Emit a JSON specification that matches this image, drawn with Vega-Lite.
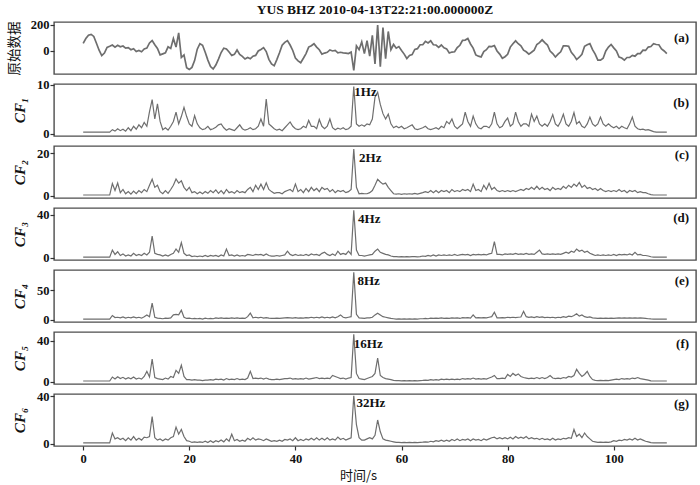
{
  "$schema": "https://vega.github.io/schema/vega-lite/v6.json",
  "padding": {"left": 6, "top": 2, "right": 5, "bottom": 2},
  "title": {"text": "YUS BHZ 2010-04-13T22:21:00.000000Z", "font": "Liberation Serif", "fontSize": 13.5, "fontWeight": "bold", "color": "#111", "offset": 2, "anchor": "middle", "frame": "group"},
  "spacing": 10,
  "bounds": "flush",
  "datasets": {
    "wave": [
      {"t":0,"a":58,"b":0.3,"c":0.4,"d":0.5,"e":1,"f":0.6,"g":0.6},
      {"t":0.5,"a":96,"b":0.3,"c":0.4,"d":0.5,"e":1,"f":0.6,"g":0.6},
      {"t":1,"a":122,"b":0.3,"c":0.4,"d":0.5,"e":1,"f":0.6,"g":0.6},
      {"t":1.5,"a":128,"b":0.3,"c":0.4,"d":0.5,"e":1,"f":0.6,"g":0.6},
      {"t":2,"a":112,"b":0.3,"c":0.4,"d":0.5,"e":1,"f":0.6,"g":0.6},
      {"t":2.5,"a":60,"b":0.3,"c":0.4,"d":0.5,"e":1,"f":0.6,"g":0.6},
      {"t":3,"a":6,"b":0.3,"c":0.4,"d":0.5,"e":1,"f":0.6,"g":0.6},
      {"t":3.5,"a":-36,"b":0.3,"c":0.4,"d":0.5,"e":1,"f":0.6,"g":0.6},
      {"t":4,"a":-16,"b":0.3,"c":0.4,"d":0.5,"e":1,"f":0.6,"g":0.6},
      {"t":4.5,"a":28,"b":0.3,"c":0.4,"d":0.5,"e":1,"f":0.6,"g":0.6},
      {"t":5,"a":36,"b":0.3,"c":0.4,"d":0.5,"e":1,"f":0.6,"g":0.6},
      {"t":5.5,"a":46,"b":0.8,"c":5.8,"d":7,"e":7,"f":4.5,"g":9},
      {"t":6,"a":30,"b":0.5,"c":2.5,"d":3,"e":3.5,"f":2.5,"g":4},
      {"t":6.5,"a":44,"b":1,"c":6,"d":5.5,"e":4,"f":4.8,"g":5},
      {"t":7,"a":32,"b":0.6,"c":1.5,"d":2,"e":3,"f":3,"g":3.5},
      {"t":7.5,"a":38,"b":0.9,"c":3,"d":3.5,"e":4.5,"f":4.2,"g":4.5},
      {"t":8,"a":22,"b":0.5,"c":1,"d":1.5,"e":2.5,"f":2.5,"g":2.5},
      {"t":8.5,"a":26,"b":1.2,"c":2,"d":2.5,"e":4,"f":3.8,"g":5},
      {"t":9,"a":10,"b":0.6,"c":0.8,"d":1.5,"e":3,"f":2.8,"g":3},
      {"t":9.5,"a":18,"b":1.5,"c":2.2,"d":4,"e":4.5,"f":4.5,"g":6},
      {"t":10,"a":-4,"b":0.9,"c":1,"d":2,"e":3,"f":2.5,"g":3},
      {"t":10.5,"a":4,"b":1.8,"c":2.5,"d":3,"e":4,"f":3.5,"g":4.5},
      {"t":11,"a":-6,"b":1.2,"c":1.5,"d":2,"e":2.5,"f":2.5,"g":3},
      {"t":11.5,"a":16,"b":2.3,"c":3,"d":4,"e":5,"f":5,"g":5.5},
      {"t":12,"a":22,"b":1.5,"c":2,"d":2.5,"e":8,"f":10,"g":5},
      {"t":12.5,"a":62,"b":4.5,"c":5,"d":5,"e":5,"f":4.5,"g":6},
      {"t":13,"a":80,"b":7,"c":7.8,"d":20,"e":28,"f":22,"g":23},
      {"t":13.5,"a":48,"b":3,"c":4,"d":4,"e":4,"f":4,"g":5},
      {"t":14,"a":20,"b":6.1,"c":5,"d":3,"e":2.5,"f":3,"g":3},
      {"t":14.5,"a":-30,"b":2.5,"c":2,"d":2.5,"e":2,"f":2.5,"g":4},
      {"t":15,"a":-22,"b":0.8,"c":1,"d":1.5,"e":1.5,"f":2,"g":2.5},
      {"t":15.5,"a":-14,"b":1.2,"c":2.5,"d":2.5,"e":2.5,"f":3.5,"g":4},
      {"t":16,"a":32,"b":0.7,"c":1.2,"d":1.5,"e":2,"f":2.5,"g":3},
      {"t":16.5,"a":20,"b":1.5,"c":3,"d":3,"e":3,"f":5,"g":5},
      {"t":17,"a":95,"b":2.5,"c":5,"d":4,"e":8,"f":4,"g":6},
      {"t":17.5,"a":30,"b":4.4,"c":7.9,"d":8,"e":9,"f":11,"g":14},
      {"t":18,"a":140,"b":2,"c":6,"d":5,"e":8,"f":8,"g":8},
      {"t":18.5,"a":-50,"b":3.5,"c":7.1,"d":14,"e":16,"f":16,"g":12},
      {"t":19,"a":-30,"b":5.4,"c":4,"d":4,"e":4,"f":5,"g":6},
      {"t":19.5,"a":-128,"b":3.5,"c":2.5,"d":2,"e":2,"f":2,"g":2.5},
      {"t":20,"a":-142,"b":2,"c":4,"d":2.5,"e":2.5,"f":2,"g":2},
      {"t":20.5,"a":-126,"b":1.5,"c":1.5,"d":1,"e":1.5,"f":1.5,"g":1},
      {"t":21,"a":-74,"b":3.7,"c":2,"d":1.5,"e":2,"f":2,"g":1.5},
      {"t":21.5,"a":14,"b":2,"c":1,"d":1,"e":1.5,"f":1.5,"g":1},
      {"t":22,"a":56,"b":1.2,"c":1.8,"d":1.5,"e":2,"f":1.5,"g":1.5},
      {"t":22.5,"a":44,"b":0.8,"c":1,"d":1,"e":1,"f":1,"g":1},
      {"t":23,"a":-10,"b":1,"c":2,"d":2,"e":2.5,"f":1.5,"g":2},
      {"t":23.5,"a":-70,"b":1.5,"c":1.2,"d":1,"e":1.5,"f":1.5,"g":1},
      {"t":24,"a":-120,"b":0.8,"c":2.5,"d":2,"e":2,"f":2,"g":2.5},
      {"t":24.5,"a":-138,"b":1,"c":1.5,"d":1.5,"e":1.5,"f":1.5,"g":1},
      {"t":25,"a":-108,"b":1.3,"c":2.8,"d":2,"e":3,"f":2.5,"g":2.5},
      {"t":25.5,"a":-62,"b":1.8,"c":1.2,"d":1,"e":2,"f":2,"g":1.5},
      {"t":26,"a":-12,"b":2,"c":2.5,"d":2.5,"e":3,"f":2.5,"g":3},
      {"t":26.5,"a":22,"b":1.2,"c":1,"d":1.5,"e":2,"f":1.5,"g":1.5},
      {"t":27,"a":16,"b":0.7,"c":3,"d":8,"e":2.5,"f":3,"g":4},
      {"t":27.5,"a":-8,"b":1,"c":1.5,"d":2,"e":2,"f":2,"g":2},
      {"t":28,"a":-34,"b":0.8,"c":2,"d":2.5,"e":3,"f":2.5,"g":8},
      {"t":28.5,"a":-26,"b":0.6,"c":1.2,"d":1.5,"e":2,"f":2,"g":2.5},
      {"t":29,"a":8,"b":1.2,"c":2.5,"d":2.5,"e":3,"f":3,"g":3.5},
      {"t":29.5,"a":-26,"b":1.8,"c":1.5,"d":1.5,"e":2,"f":2,"g":2},
      {"t":30,"a":-42,"b":1,"c":2,"d":2,"e":2.5,"f":2.5,"g":3},
      {"t":30.5,"a":-62,"b":0.7,"c":1.5,"d":1.5,"e":2,"f":2,"g":2},
      {"t":31,"a":-50,"b":0.9,"c":3,"d":3,"e":5,"f":3.5,"g":4.5},
      {"t":31.5,"a":-60,"b":1.2,"c":4,"d":2.5,"e":11,"f":10,"g":3},
      {"t":32,"a":-40,"b":0.8,"c":2,"d":2,"e":3,"f":3,"g":5},
      {"t":32.5,"a":-34,"b":1,"c":5,"d":3,"e":4,"f":3.5,"g":3},
      {"t":33,"a":0,"b":1.5,"c":3,"d":2.5,"e":3,"f":3,"g":4},
      {"t":33.5,"a":12,"b":3,"c":5.5,"d":3,"e":4,"f":3.5,"g":3.5},
      {"t":34,"a":26,"b":1.5,"c":3,"d":2,"e":2.5,"f":2.5,"g":2.5},
      {"t":34.5,"a":-4,"b":7.1,"c":6.1,"d":3.5,"e":3.5,"f":3.5,"g":4},
      {"t":35,"a":-64,"b":2,"c":3,"d":2,"e":2.5,"f":2.5,"g":3},
      {"t":35.5,"a":-100,"b":1.5,"c":2,"d":1.5,"e":2,"f":2,"g":2},
      {"t":36,"a":-114,"b":1,"c":1.2,"d":1.5,"e":2,"f":2,"g":2.5},
      {"t":36.5,"a":-66,"b":0.7,"c":1.5,"d":2,"e":2.5,"f":2.5,"g":2},
      {"t":37,"a":-14,"b":0.9,"c":1.5,"d":1.5,"e":2,"f":2,"g":3},
      {"t":37.5,"a":44,"b":0.6,"c":1,"d":2,"e":2.5,"f":2.5,"g":2},
      {"t":38,"a":66,"b":1.2,"c":2,"d":2.5,"e":3,"f":3,"g":3.5},
      {"t":38.5,"a":80,"b":1.8,"c":2.5,"d":6,"e":3.5,"f":3,"g":3},
      {"t":39,"a":46,"b":2.4,"c":3,"d":3,"e":3,"f":3.5,"g":4},
      {"t":39.5,"a":4,"b":1.5,"c":2,"d":2,"e":2.5,"f":2.5,"g":2.5},
      {"t":40,"a":-54,"b":1,"c":5.5,"d":3,"e":3.5,"f":3,"g":5},
      {"t":40.5,"a":-76,"b":0.8,"c":2,"d":2,"e":2.5,"f":2.5,"g":2.5},
      {"t":41,"a":-90,"b":1,"c":3,"d":2.5,"e":3,"f":3,"g":3.5},
      {"t":41.5,"a":-56,"b":1.5,"c":1.5,"d":2,"e":2.5,"f":2.5,"g":2.5},
      {"t":42,"a":-20,"b":1.2,"c":3.5,"d":3,"e":3.5,"f":3.5,"g":4},
      {"t":42.5,"a":30,"b":2.7,"c":2,"d":2,"e":3,"f":2.5,"g":3},
      {"t":43,"a":40,"b":1.5,"c":4,"d":3.5,"e":4,"f":3,"g":4.5},
      {"t":43.5,"a":56,"b":1.5,"c":2.5,"d":2.5,"e":3,"f":3.5,"g":3},
      {"t":44,"a":30,"b":1,"c":3.5,"d":3,"e":4,"f":4,"g":5},
      {"t":44.5,"a":10,"b":2.9,"c":2,"d":2,"e":3,"f":3,"g":3},
      {"t":45,"a":-24,"b":1.5,"c":4,"d":4,"e":4.5,"f":3.5,"g":4.5},
      {"t":45.5,"a":-16,"b":1,"c":3,"d":5,"e":3,"f":3,"g":3},
      {"t":46,"a":-10,"b":1.5,"c":3.5,"d":3,"e":4,"f":3.5,"g":5},
      {"t":46.5,"a":8,"b":3,"c":2,"d":2,"e":3,"f":3,"g":3},
      {"t":47,"a":0,"b":1.2,"c":3,"d":3.5,"e":4.5,"f":6,"g":4},
      {"t":47.5,"a":4,"b":0.8,"c":1.5,"d":2,"e":3,"f":5,"g":3},
      {"t":48,"a":-14,"b":1.1,"c":2.5,"d":6,"e":5,"f":4,"g":5.5},
      {"t":48.5,"a":-10,"b":0.9,"c":2,"d":3,"e":8,"f":3,"g":3.5},
      {"t":49,"a":-14,"b":1.2,"c":2.5,"d":4,"e":4,"f":3.5,"g":4.5},
      {"t":49.5,"a":-16,"b":0.8,"c":1.5,"d":3,"e":3,"f":2.5,"g":3},
      {"t":50,"a":-20,"b":1,"c":2,"d":6,"e":4,"f":3.5,"g":4},
      {"t":50.5,"a":-8,"b":1.5,"c":3,"d":3,"e":5,"f":4,"g":5},
      {"t":51,"a":-150,"b":9.7,"c":22,"d":44,"e":80,"f":46,"g":40.5},
      {"t":51.5,"a":40,"b":2,"c":4,"d":7,"e":9,"f":8,"g":16},
      {"t":52,"a":10,"b":1.5,"c":1,"d":2,"e":3,"f":3,"g":5},
      {"t":52.5,"a":70,"b":1.8,"c":1.2,"d":2,"e":2.5,"f":2.5,"g":3},
      {"t":53,"a":-20,"b":1.5,"c":1,"d":1.5,"e":2,"f":2,"g":3},
      {"t":53.5,"a":80,"b":2,"c":1,"d":2,"e":3,"f":3,"g":4},
      {"t":54,"a":-40,"b":1.8,"c":1.5,"d":2.5,"e":3,"f":4,"g":5},
      {"t":54.5,"a":120,"b":3,"c":2.5,"d":3,"e":4,"f":5,"g":4},
      {"t":55,"a":-100,"b":7.5,"c":5,"d":6,"e":8,"f":8,"g":7},
      {"t":55.5,"a":200,"b":8.5,"c":7.8,"d":8,"e":11,"f":23,"g":20},
      {"t":56,"a":-120,"b":6,"c":6.5,"d":5,"e":8,"f":6,"g":10},
      {"t":56.5,"a":180,"b":4.1,"c":5.5,"d":4,"e":5,"f":4,"g":4},
      {"t":57,"a":-60,"b":3,"c":6,"d":3,"e":4,"f":3,"g":3},
      {"t":57.5,"a":150,"b":4,"c":4,"d":2.5,"e":3,"f":2.5,"g":2.5},
      {"t":58,"a":10,"b":2,"c":2.5,"d":1.5,"e":2,"f":2,"g":2},
      {"t":58.5,"a":50,"b":1.2,"c":1,"d":1,"e":1.5,"f":1.2,"g":1.5},
      {"t":59,"a":22,"b":1.5,"c":0.8,"d":1,"e":1,"f":1,"g":1},
      {"t":59.5,"a":34,"b":1.2,"c":1,"d":0.8,"e":1.2,"f":1,"g":1},
      {"t":60,"a":4,"b":1.5,"c":0.7,"d":1,"e":1,"f":0.8,"g":0.8},
      {"t":60.5,"a":-24,"b":1,"c":1,"d":0.8,"e":1.2,"f":1,"g":1},
      {"t":61,"a":-58,"b":1.2,"c":0.8,"d":1,"e":1,"f":0.8,"g":0.8},
      {"t":61.5,"a":-34,"b":1.5,"c":1,"d":0.8,"e":1.2,"f":1,"g":1},
      {"t":62,"a":-28,"b":1.8,"c":0.8,"d":1,"e":1,"f":0.8,"g":0.8},
      {"t":62.5,"a":12,"b":1,"c":1.2,"d":1,"e":1.2,"f":1,"g":1},
      {"t":63,"a":18,"b":0.8,"c":0.8,"d":0.8,"e":1,"f":0.8,"g":0.8},
      {"t":63.5,"a":48,"b":1,"c":1.2,"d":1,"e":1.5,"f":1,"g":1},
      {"t":64,"a":48,"b":1.2,"c":1.5,"d":1.5,"e":1.5,"f":1.2,"g":1.2},
      {"t":64.5,"a":74,"b":1.5,"c":2,"d":1.2,"e":2,"f":1.5,"g":1.5},
      {"t":65,"a":62,"b":1,"c":1.5,"d":2,"e":1.5,"f":1.2,"g":1.2},
      {"t":65.5,"a":78,"b":0.8,"c":2.5,"d":1.5,"e":2.5,"f":2,"g":2},
      {"t":66,"a":48,"b":1,"c":1.5,"d":2.5,"e":2,"f":1.5,"g":1.5},
      {"t":66.5,"a":46,"b":1.2,"c":2.5,"d":1.5,"e":2.5,"f":2,"g":2.5},
      {"t":67,"a":28,"b":0.9,"c":1.5,"d":2.5,"e":2,"f":1.5,"g":2},
      {"t":67.5,"a":46,"b":1.5,"c":2.5,"d":2,"e":3,"f":2.5,"g":3},
      {"t":68,"a":24,"b":1.2,"c":2,"d":2.5,"e":2,"f":2,"g":2},
      {"t":68.5,"a":16,"b":2.5,"c":2.5,"d":2,"e":2.5,"f":2.5,"g":3},
      {"t":69,"a":-16,"b":2,"c":1.5,"d":2.5,"e":2,"f":2,"g":2},
      {"t":69.5,"a":-8,"b":3,"c":3,"d":2,"e":3,"f":2.5,"g":3.5},
      {"t":70,"a":-6,"b":1.5,"c":2,"d":3,"e":2.5,"f":2,"g":2.5},
      {"t":70.5,"a":26,"b":1,"c":2.5,"d":2,"e":3,"f":2.5,"g":4},
      {"t":71,"a":44,"b":1.5,"c":2,"d":2.5,"e":2,"f":2,"g":2.5},
      {"t":71.5,"a":82,"b":2,"c":3,"d":3,"e":3.5,"f":3,"g":3.5},
      {"t":72,"a":84,"b":4.4,"c":2.5,"d":2.5,"e":3,"f":2.5,"g":3},
      {"t":72.5,"a":96,"b":2.5,"c":3,"d":3,"e":3.5,"f":3,"g":4},
      {"t":73,"a":54,"b":1.5,"c":2,"d":2,"e":2.5,"f":2.5,"g":2.5},
      {"t":73.5,"a":22,"b":3.6,"c":5.5,"d":3,"e":8,"f":3.5,"g":4},
      {"t":74,"a":-30,"b":2,"c":2.5,"d":2.5,"e":3,"f":2.5,"g":3},
      {"t":74.5,"a":-40,"b":1.2,"c":3,"d":3,"e":3.5,"f":3,"g":3.5},
      {"t":75,"a":-46,"b":1,"c":2,"d":2.5,"e":3,"f":2.5,"g":2.5},
      {"t":75.5,"a":-4,"b":1.5,"c":5,"d":3,"e":3.5,"f":3,"g":4},
      {"t":76,"a":10,"b":1.5,"c":3,"d":2.5,"e":3,"f":2.5,"g":3},
      {"t":76.5,"a":36,"b":1.2,"c":5.9,"d":3.5,"e":4,"f":3.5,"g":4},
      {"t":77,"a":34,"b":2,"c":3,"d":4,"e":5,"f":4.5,"g":5},
      {"t":77.5,"a":42,"b":4.4,"c":4,"d":15,"e":12.5,"f":6,"g":5.5},
      {"t":78,"a":0,"b":2,"c":2.5,"d":3,"e":3,"f":3,"g":4},
      {"t":78.5,"a":-24,"b":1.2,"c":2,"d":3,"e":3,"f":3,"g":5},
      {"t":79,"a":-56,"b":1.5,"c":2.5,"d":2.5,"e":3.5,"f":3.5,"g":4},
      {"t":79.5,"a":-44,"b":2.5,"c":2,"d":3.5,"e":3,"f":3,"g":5},
      {"t":80,"a":-26,"b":3.2,"c":2.5,"d":3,"e":4,"f":7,"g":4},
      {"t":80.5,"a":30,"b":1.5,"c":2,"d":3.5,"e":3.5,"f":5,"g":5.5},
      {"t":81,"a":56,"b":2,"c":2.5,"d":3,"e":4,"f":8,"g":4},
      {"t":81.5,"a":78,"b":4.4,"c":2,"d":4,"e":3.5,"f":6,"g":6},
      {"t":82,"a":56,"b":2.5,"c":2.5,"d":3,"e":4,"f":7.5,"g":4.5},
      {"t":82.5,"a":40,"b":1.5,"c":3,"d":3.5,"e":4.5,"f":5,"g":5.5},
      {"t":83,"a":6,"b":2,"c":2.5,"d":3,"e":14,"f":4,"g":4.5},
      {"t":83.5,"a":-6,"b":2,"c":3.5,"d":4,"e":5,"f":3.5,"g":6},
      {"t":84,"a":-24,"b":1.5,"c":3,"d":3,"e":4,"f":3,"g":4},
      {"t":84.5,"a":-10,"b":4,"c":4,"d":3.5,"e":4.5,"f":3.5,"g":5},
      {"t":85,"a":6,"b":2.5,"c":3,"d":3,"e":3.5,"f":3,"g":4},
      {"t":85.5,"a":50,"b":3.6,"c":4.5,"d":5,"e":5,"f":4,"g":4.5},
      {"t":86,"a":64,"b":2,"c":3,"d":7,"e":4,"f":3,"g":3.5},
      {"t":86.5,"a":86,"b":1.5,"c":4,"d":3.5,"e":4.5,"f":4,"g":4.5},
      {"t":87,"a":64,"b":2,"c":3,"d":3,"e":3.5,"f":3,"g":3.5},
      {"t":87.5,"a":46,"b":1.5,"c":3.5,"d":3.5,"e":4,"f":4,"g":4},
      {"t":88,"a":0,"b":2.5,"c":2.5,"d":3,"e":3.5,"f":6,"g":3},
      {"t":88.5,"a":-20,"b":3.9,"c":4,"d":3.5,"e":4,"f":3.5,"g":4.5},
      {"t":89,"a":-46,"b":2,"c":3,"d":3,"e":3,"f":3,"g":3},
      {"t":89.5,"a":-24,"b":1.5,"c":3.5,"d":3.5,"e":4,"f":3.5,"g":4},
      {"t":90,"a":-6,"b":2.5,"c":3,"d":3,"e":3.5,"f":3,"g":3.5},
      {"t":90.5,"a":40,"b":4,"c":4.5,"d":4,"e":5,"f":4,"g":4.5},
      {"t":91,"a":40,"b":2,"c":3.5,"d":5,"e":4,"f":3.5,"g":4},
      {"t":91.5,"a":36,"b":1.5,"c":5,"d":4,"e":6,"f":5,"g":5},
      {"t":92,"a":-10,"b":2.5,"c":4,"d":6,"e":5,"f":4.5,"g":4.5},
      {"t":92.5,"a":-34,"b":4.3,"c":5.5,"d":5,"e":7,"f":6,"g":12},
      {"t":93,"a":-66,"b":2,"c":4.5,"d":8,"e":10,"f":12,"g":6},
      {"t":93.5,"a":-48,"b":2.5,"c":6.3,"d":6,"e":6,"f":8,"g":8},
      {"t":94,"a":-26,"b":1.5,"c":4,"d":7,"e":8,"f":5,"g":5},
      {"t":94.5,"a":36,"b":1.2,"c":5,"d":5,"e":5,"f":7,"g":9},
      {"t":95,"a":48,"b":2,"c":3.5,"d":6,"e":4,"f":10,"g":6},
      {"t":95.5,"a":56,"b":3.4,"c":4,"d":4,"e":4.5,"f":5,"g":4},
      {"t":96,"a":10,"b":2,"c":3,"d":3,"e":3,"f":2,"g":2},
      {"t":96.5,"a":-24,"b":1.5,"c":3.5,"d":2,"e":2.5,"f":1.2,"g":1.5},
      {"t":97,"a":-70,"b":2,"c":2.5,"d":2.5,"e":2,"f":1,"g":1},
      {"t":97.5,"a":-70,"b":3.4,"c":3.5,"d":2,"e":2.5,"f":1.2,"g":1.2},
      {"t":98,"a":-56,"b":2,"c":2.5,"d":2.5,"e":2,"f":1,"g":1},
      {"t":98.5,"a":0,"b":1.5,"c":2,"d":2,"e":2.5,"f":1.2,"g":1.2},
      {"t":99,"a":30,"b":2,"c":2.5,"d":2.5,"e":2,"f":1,"g":1},
      {"t":99.5,"a":50,"b":1.5,"c":2,"d":2,"e":2.5,"f":1.5,"g":1.5},
      {"t":100,"a":24,"b":1.2,"c":2.5,"d":3,"e":2,"f":2,"g":2.5},
      {"t":100.5,"a":0,"b":1.5,"c":2,"d":2,"e":2.5,"f":2.5,"g":2},
      {"t":101,"a":-46,"b":1,"c":3,"d":3,"e":3,"f":2,"g":3},
      {"t":101.5,"a":-54,"b":1.5,"c":2,"d":2.5,"e":2.5,"f":3,"g":2.5},
      {"t":102,"a":-70,"b":1.2,"c":2.5,"d":3,"e":3,"f":2.5,"g":3.5},
      {"t":102.5,"a":-50,"b":1,"c":1.5,"d":2.5,"e":2.5,"f":3,"g":3},
      {"t":103,"a":-50,"b":2,"c":2.5,"d":3.5,"e":3,"f":2.5,"g":4},
      {"t":103.5,"a":-34,"b":3.4,"c":2,"d":2.5,"e":2.5,"f":3.5,"g":3},
      {"t":104,"a":-40,"b":1.5,"c":2.5,"d":5,"e":3,"f":3,"g":4.5},
      {"t":104.5,"a":-20,"b":1,"c":1.5,"d":2.5,"e":2.5,"f":4,"g":3},
      {"t":105,"a":-20,"b":0.8,"c":2,"d":3,"e":3,"f":3,"g":4},
      {"t":105.5,"a":6,"b":0.9,"c":1.5,"d":2,"e":2.5,"f":2.5,"g":3},
      {"t":106,"a":4,"b":0.7,"c":1.5,"d":2,"e":2,"f":2,"g":2},
      {"t":106.5,"a":30,"b":0.8,"c":1,"d":1.5,"e":1.5,"f":1.5,"g":1.5},
      {"t":107,"a":34,"b":0.6,"c":0.6,"d":0.8,"e":1.2,"f":0.8,"g":0.8},
      {"t":107.5,"a":56,"b":0.4,"c":0.4,"d":0.5,"e":1,"f":0.6,"g":0.6},
      {"t":108,"a":50,"b":0.3,"c":0.4,"d":0.5,"e":1,"f":0.6,"g":0.6},
      {"t":108.5,"a":48,"b":0.3,"c":0.4,"d":0.5,"e":1,"f":0.6,"g":0.6},
      {"t":109,"a":16,"b":0.3,"c":0.4,"d":0.5,"e":1,"f":0.6,"g":0.6},
      {"t":109.5,"a":0,"b":0.3,"c":0.4,"d":0.5,"e":1,"f":0.6,"g":0.6},
      {"t":110,"a":-20,"b":0.3,"c":0.4,"d":0.5,"e":1,"f":0.6,"g":0.6}
    ],
    "tags": [
      {"p":"a","t":114.2,"v":102,"s":"(a)"},
      {"p":"b","t":114.2,"v":6.2,"s":"(b)"},
      {"p":"c","t":114.2,"v":19,"s":"(c)"},
      {"p":"d","t":114.2,"v":37,"s":"(d)"},
      {"p":"e","t":114.2,"v":65,"s":"(e)"},
      {"p":"f","t":114.2,"v":36.8,"s":"(f)"},
      {"p":"g","t":114.2,"v":33.8,"s":"(g)"}
    ],
    "freq": [
      {"p":"b","t":51.1,"v":8.55,"s":"1Hz"},
      {"p":"c","t":52,"v":18,"s":"2Hz"},
      {"p":"d","t":51.8,"v":35.7,"s":"4Hz"},
      {"p":"e","t":51.7,"v":65.2,"s":"8Hz"},
      {"p":"f","t":51,"v":36.8,"s":"16Hz"},
      {"p":"g","t":51.5,"v":34.4,"s":"32Hz"}
    ]
  },
  "vconcat": [
    {
      "width": 642, "height": 52,
      "layer": [
        {"data": {"name": "wave"}, "mark": {"type": "line", "strokeWidth": 1.7},
         "encoding": {
           "x": {"field": "t", "type": "quantitative", "scale": {"domain": [-5.5, 115.5], "nice": false, "zero": false}, "axis": null},
           "y": {"field": "a", "type": "quantitative", "scale": {"domain": [-177, 223], "nice": false, "zero": false},
                 "axis": {"values": [0, 200], "title": "原始数据", "titleFont": "Noto Sans CJK SC", "titleFontStyle": "normal", "titleFontWeight": "normal", "titleFontSize": 13.5, "titlePadding": 9}}}},
        {"data": {"name": "tags"}, "transform": [{"filter": "datum.p == 'a'"}],
         "mark": {"type": "text", "align": "right", "baseline": "middle"},
         "encoding": {"x": {"field": "t", "type": "quantitative"}, "y": {"field": "v", "type": "quantitative"}, "text": {"field": "s"}}}
      ]
    },
    {
      "width": 642, "height": 52,
      "layer": [
        {"data": {"name": "wave"}, "mark": "line",
         "encoding": {
           "x": {"field": "t", "type": "quantitative", "scale": {"domain": [-5.5, 115.5], "nice": false, "zero": false}, "axis": null},
           "y": {"field": "b", "type": "quantitative", "scale": {"domain": [-0.5, 10.2], "nice": false, "zero": false},
                 "axis": {"values": [0, 5, 10], "title": "CF₁"}}}},
        {"data": {"name": "freq"}, "transform": [{"filter": "datum.p == 'b'"}],
         "mark": {"type": "text", "align": "left", "baseline": "middle"},
         "encoding": {"x": {"field": "t", "type": "quantitative"}, "y": {"field": "v", "type": "quantitative"}, "text": {"field": "s"}}},
        {"data": {"name": "tags"}, "transform": [{"filter": "datum.p == 'b'"}],
         "mark": {"type": "text", "align": "right", "baseline": "middle"},
         "encoding": {"x": {"field": "t", "type": "quantitative"}, "y": {"field": "v", "type": "quantitative"}, "text": {"field": "s"}}}
      ]
    },
    {
      "width": 642, "height": 52,
      "layer": [
        {"data": {"name": "wave"}, "mark": "line",
         "encoding": {
           "x": {"field": "t", "type": "quantitative", "scale": {"domain": [-5.5, 115.5], "nice": false, "zero": false}, "axis": null},
           "y": {"field": "c", "type": "quantitative", "scale": {"domain": [-1, 23.4], "nice": false, "zero": false},
                 "axis": {"values": [0, 10, 20], "title": "CF₂"}}}},
        {"data": {"name": "freq"}, "transform": [{"filter": "datum.p == 'c'"}],
         "mark": {"type": "text", "align": "left", "baseline": "middle"},
         "encoding": {"x": {"field": "t", "type": "quantitative"}, "y": {"field": "v", "type": "quantitative"}, "text": {"field": "s"}}},
        {"data": {"name": "tags"}, "transform": [{"filter": "datum.p == 'c'"}],
         "mark": {"type": "text", "align": "right", "baseline": "middle"},
         "encoding": {"x": {"field": "t", "type": "quantitative"}, "y": {"field": "v", "type": "quantitative"}, "text": {"field": "s"}}}
      ]
    },
    {
      "width": 642, "height": 52,
      "layer": [
        {"data": {"name": "wave"}, "mark": "line",
         "encoding": {
           "x": {"field": "t", "type": "quantitative", "scale": {"domain": [-5.5, 115.5], "nice": false, "zero": false}, "axis": null},
           "y": {"field": "d", "type": "quantitative", "scale": {"domain": [-2.2, 46.2], "nice": false, "zero": false},
                 "axis": {"values": [0, 20, 40], "title": "CF₃"}}}},
        {"data": {"name": "freq"}, "transform": [{"filter": "datum.p == 'd'"}],
         "mark": {"type": "text", "align": "left", "baseline": "middle"},
         "encoding": {"x": {"field": "t", "type": "quantitative"}, "y": {"field": "v", "type": "quantitative"}, "text": {"field": "s"}}},
        {"data": {"name": "tags"}, "transform": [{"filter": "datum.p == 'd'"}],
         "mark": {"type": "text", "align": "right", "baseline": "middle"},
         "encoding": {"x": {"field": "t", "type": "quantitative"}, "y": {"field": "v", "type": "quantitative"}, "text": {"field": "s"}}}
      ]
    },
    {
      "width": 642, "height": 52,
      "layer": [
        {"data": {"name": "wave"}, "mark": "line",
         "encoding": {
           "x": {"field": "t", "type": "quantitative", "scale": {"domain": [-5.5, 115.5], "nice": false, "zero": false}, "axis": null},
           "y": {"field": "e", "type": "quantitative", "scale": {"domain": [-4, 84], "nice": false, "zero": false},
                 "axis": {"values": [0, 50], "title": "CF₄"}}}},
        {"data": {"name": "freq"}, "transform": [{"filter": "datum.p == 'e'"}],
         "mark": {"type": "text", "align": "left", "baseline": "middle"},
         "encoding": {"x": {"field": "t", "type": "quantitative"}, "y": {"field": "v", "type": "quantitative"}, "text": {"field": "s"}}},
        {"data": {"name": "tags"}, "transform": [{"filter": "datum.p == 'e'"}],
         "mark": {"type": "text", "align": "right", "baseline": "middle"},
         "encoding": {"x": {"field": "t", "type": "quantitative"}, "y": {"field": "v", "type": "quantitative"}, "text": {"field": "s"}}}
      ]
    },
    {
      "width": 642, "height": 52,
      "layer": [
        {"data": {"name": "wave"}, "mark": "line",
         "encoding": {
           "x": {"field": "t", "type": "quantitative", "scale": {"domain": [-5.5, 115.5], "nice": false, "zero": false}, "axis": null},
           "y": {"field": "f", "type": "quantitative", "scale": {"domain": [-2.3, 48.3], "nice": false, "zero": false},
                 "axis": {"values": [0, 20, 40], "title": "CF₅"}}}},
        {"data": {"name": "freq"}, "transform": [{"filter": "datum.p == 'f'"}],
         "mark": {"type": "text", "align": "left", "baseline": "middle"},
         "encoding": {"x": {"field": "t", "type": "quantitative"}, "y": {"field": "v", "type": "quantitative"}, "text": {"field": "s"}}},
        {"data": {"name": "tags"}, "transform": [{"filter": "datum.p == 'f'"}],
         "mark": {"type": "text", "align": "right", "baseline": "middle"},
         "encoding": {"x": {"field": "t", "type": "quantitative"}, "y": {"field": "v", "type": "quantitative"}, "text": {"field": "s"}}}
      ]
    },
    {
      "width": 642, "height": 52,
      "layer": [
        {"data": {"name": "wave"}, "mark": "line",
         "encoding": {
           "x": {"field": "t", "type": "quantitative", "scale": {"domain": [-5.5, 115.5], "nice": false, "zero": false},
                 "axis": {"values": [0, 20, 40, 60, 80, 100], "title": "时间/s", "titleFont": "Noto Sans CJK SC", "titleFontWeight": "normal", "titleFontSize": 13, "titlePadding": 5, "labelPadding": 2, "titleX": 304}},
           "y": {"field": "g", "type": "quantitative", "scale": {"domain": [-2, 42], "nice": false, "zero": false},
                 "axis": {"values": [0, 20, 40], "title": "CF₆"}}}},
        {"data": {"name": "freq"}, "transform": [{"filter": "datum.p == 'g'"}],
         "mark": {"type": "text", "align": "left", "baseline": "middle"},
         "encoding": {"x": {"field": "t", "type": "quantitative"}, "y": {"field": "v", "type": "quantitative"}, "text": {"field": "s"}}},
        {"data": {"name": "tags"}, "transform": [{"filter": "datum.p == 'g'"}],
         "mark": {"type": "text", "align": "right", "baseline": "middle"},
         "encoding": {"x": {"field": "t", "type": "quantitative"}, "y": {"field": "v", "type": "quantitative"}, "text": {"field": "s"}}}
      ]
    }
  ],
  "config": {
    "view": {"stroke": "#4d4d4d", "strokeWidth": 1.4},
    "axis": {"grid": false, "domain": false, "tickColor": "#333", "tickSize": 4, "tickWidth": 1.2, "labelFont": "Liberation Serif", "labelFontWeight": "bold", "labelFontSize": 12.5, "labelColor": "#111", "labelPadding": 1, "titleColor": "#111"},
    "axisY": {"titlePadding": 9, "titleFont": "Liberation Serif", "titleFontStyle": "italic", "titleFontWeight": "bold", "titleFontSize": 15},
    "line": {"color": "#6e6e6e", "strokeWidth": 1.2},
    "text": {"font": "Liberation Serif", "fontWeight": "bold", "fontSize": 13, "color": "#111"}
  }
}
